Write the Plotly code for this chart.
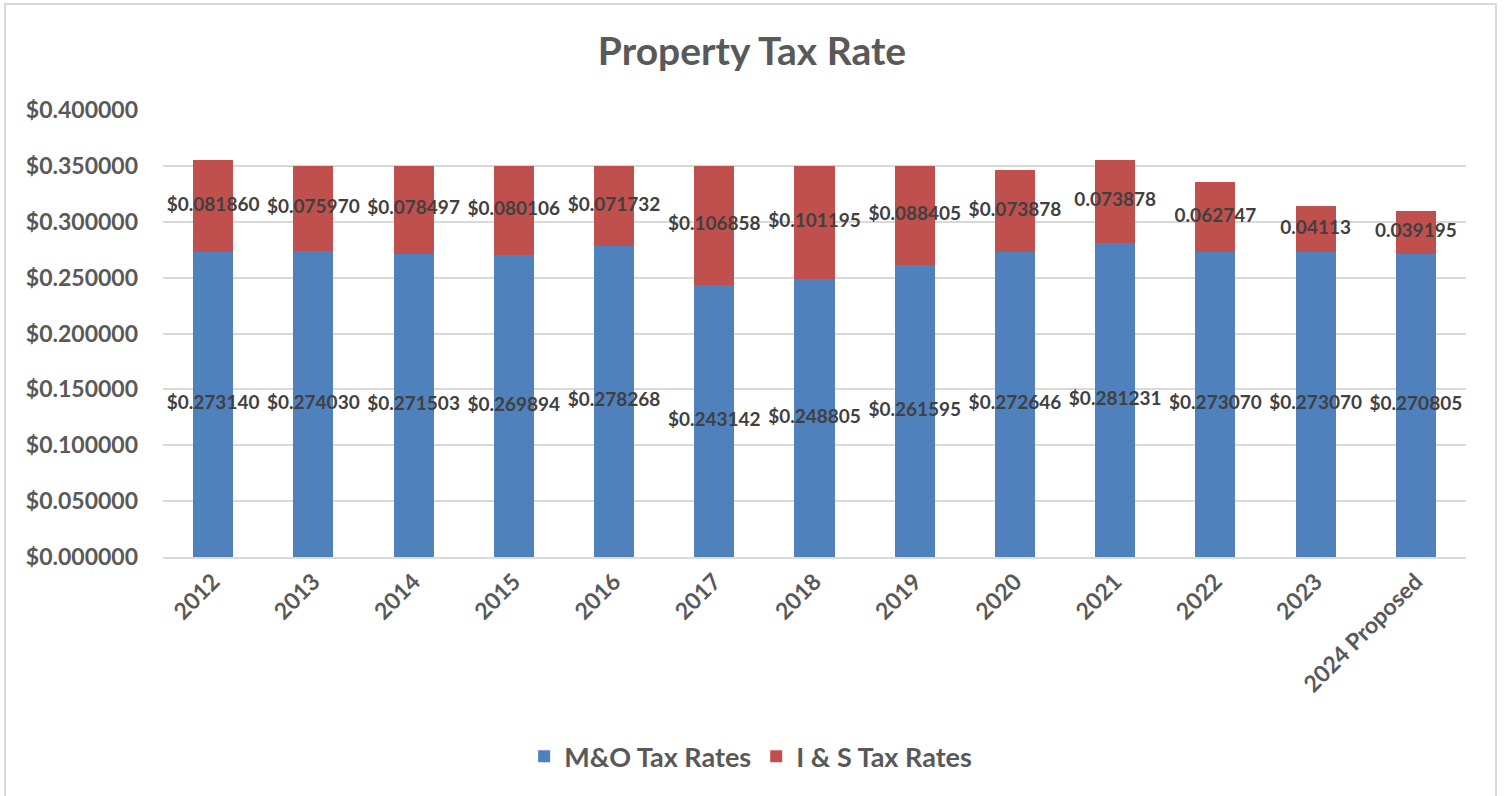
import plotly.graph_objects as go

years = ["2012", "2013", "2014", "2015", "2016", "2017", "2018", "2019",
         "2020", "2021", "2022", "2023", "2024 Proposed"]
mo_rates = [0.273140, 0.274030, 0.271503, 0.269894, 0.278268, 0.243142, 0.248805,
            0.261595, 0.272646, 0.281231, 0.273070, 0.273070, 0.270805]
is_rates = [0.081860, 0.075970, 0.078497, 0.080106, 0.071732, 0.106858, 0.101195,
            0.088405, 0.073878, 0.073878, 0.062747, 0.041130, 0.039195]
mo_labels = ["$0.273140", "$0.274030", "$0.271503", "$0.269894", "$0.278268", "$0.243142",
             "$0.248805", "$0.261595", "$0.272646", "$0.281231", "$0.273070", "$0.273070",
             "$0.270805"]
is_labels = ["$0.081860", "$0.075970", "$0.078497", "$0.080106", "$0.071732", "$0.106858",
             "$0.101195", "$0.088405", "$0.073878", "0.073878", "0.062747", "0.04113",
             "0.039195"]
y_ticks = [0.0, 0.05, 0.1, 0.15, 0.2, 0.25, 0.3, 0.35, 0.4]

FONT = "Lato"
GREY = "#595959"
LABEL = "#404040"

fig = go.Figure()
fig.add_trace(go.Bar(name="M&O Tax Rates", x=years, y=mo_rates,
                     marker=dict(color="#4F81BD", line=dict(width=0)),
                     hoverinfo="y"))
fig.add_trace(go.Bar(name="I & S Tax Rates", x=years, y=is_rates,
                     marker=dict(color="#C0504D", line=dict(width=0)),
                     hoverinfo="y"))

# data labels centred in each segment
mo_mid = [v / 2 for v in mo_rates]
is_mid = [m + v / 2 for m, v in zip(mo_rates, is_rates)]
label_font = dict(family=FONT, size=19, color=LABEL, weight="bold")
fig.add_trace(go.Scatter(x=years, y=mo_mid, text=mo_labels, mode="text",
                         textposition="middle center", showlegend=False,
                         textfont=label_font, hoverinfo="skip"))
fig.add_trace(go.Scatter(x=years, y=is_mid, text=is_labels, mode="text",
                         textposition="middle center", showlegend=False,
                         textfont=label_font, hoverinfo="skip"))

fig.update_layout(
    barmode="stack",
    bargap=0.6,
    width=1504, height=796,
    margin=dict(l=163, r=38, t=110, b=239),
    paper_bgcolor="white",
    plot_bgcolor="white",
    font=dict(family=FONT, color=GREY),
    title=dict(text="<b>Property Tax Rate</b>", x=0.5, xanchor="center",
               y=0.935, yanchor="middle",
               font=dict(family=FONT, size=39, color=GREY)),
    legend=dict(orientation="h", x=0.451, xanchor="center", y=-0.447, yanchor="middle",
                font=dict(family=FONT, size=27, color=GREY, weight="bold"),
                traceorder="normal", itemwidth=30),
    showlegend=True,
)
fig.update_xaxes(type="category", tickangle=-45, range=[-0.5, len(years) - 0.5],
                 tickvals=years, ticktext=["<b>%s</b>" % y for y in years],
                 tickfont=dict(family=FONT, size=23, color=GREY),
                 showline=True, linecolor="#d9d9d9", linewidth=2,
                 ticks="", showgrid=False)
fig.update_yaxes(range=[0, 0.4], tickvals=y_ticks,
                 ticktext=["<b>$%.6f</b>" % v for v in y_ticks],
                 tickfont=dict(family=FONT, size=23, color=GREY),
                 showgrid=True, gridcolor="#d9d9d9", gridwidth=2,
                 zeroline=False, showline=False, ticks="", ticklabelstandoff=24)

# chart border
fig.add_shape(type="rect", xref="paper", yref="paper",
              x0=-0.1213, x1=1.0230, y0=-0.544, y1=1.2371,
              line=dict(color="#d9d9d9", width=2), fillcolor="rgba(0,0,0,0)", layer="below")

fig.write_html("out.html", config={"displayModeBar": False},
               post_script="document.body.style.margin='0';")
